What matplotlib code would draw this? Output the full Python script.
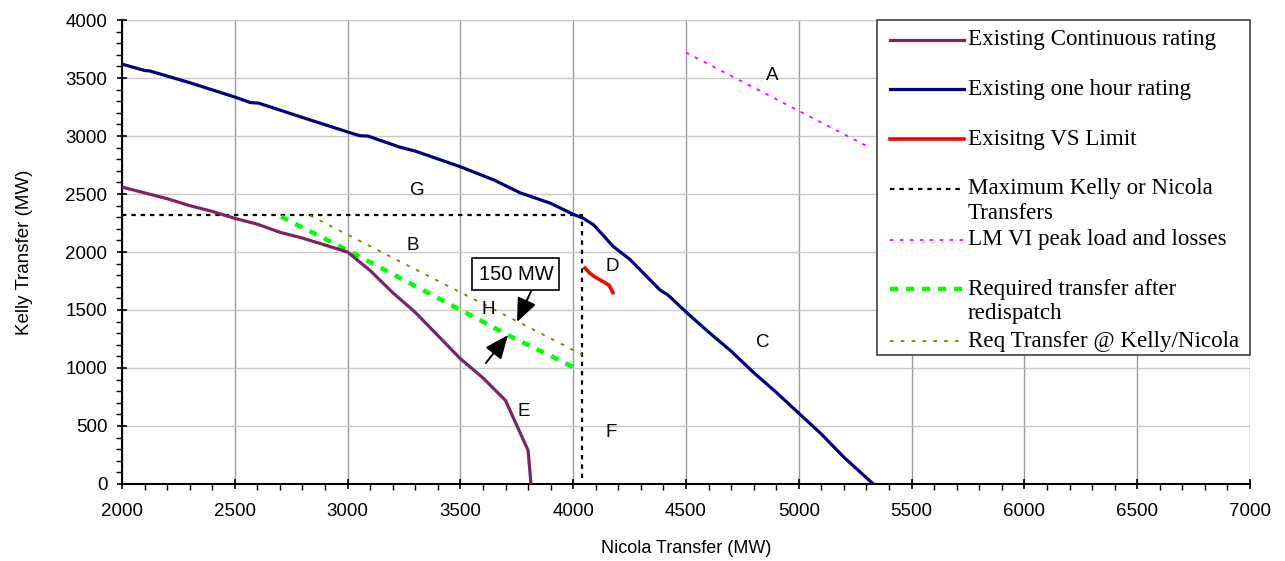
import matplotlib
matplotlib.use("Agg")
import matplotlib.pyplot as plt
from matplotlib.patches import Rectangle
from matplotlib.ticker import MultipleLocator

plt.rcParams['font.family'] = ['Liberation Sans', 'DejaVu Sans']

# Existing continuous rating
cont_x = [2000, 2100, 2200, 2300, 2400, 2500, 2600, 2700, 2800, 2900, 3000,
          3100, 3200, 3300, 3400, 3500, 3600, 3700, 3800, 3813]
cont_y = [2560, 2510, 2460, 2400, 2350, 2290, 2240, 2170, 2120, 2060, 2000,
          1840, 1650, 1480, 1280, 1080, 915, 720, 290, 0]

# Existing one hour rating
hour_x = [2000, 2100, 2125, 2300, 2500, 2570, 2605, 2800, 3000, 3055, 3090,
          3230, 3300, 3500, 3650, 3765, 3900, 4000, 4045, 4090, 4130, 4176,
          4252, 4385, 4420, 4500, 4600, 4700, 4800, 4900, 5000, 5100, 5200, 5330]
hour_y = [3620, 3565, 3560, 3460, 3336, 3288, 3284, 3160, 3035, 3002, 3000,
          2905, 2870, 2735, 2620, 2510, 2420, 2325, 2290, 2235, 2150, 2050,
          1935, 1672, 1630, 1483, 1310, 1145, 960, 790, 610, 430, 230, 0]

# Existing VS limit
vs_x = [4052, 4075, 4097, 4141, 4160, 4176]
vs_y = [1862, 1815, 1784, 1735, 1710, 1650]

# Maximum Kelly or Nicola transfers
max_x = [2000, 4040, 4040]
max_y = [2320, 2320, 0]

# LM VI peak load and losses
lm_x = [4500, 5320]
lm_y = [3720, 2895]

# Required transfer after redispatch
req_x = [2705, 2975, 3720, 4000]
req_y = [2305, 2040, 1275, 1008]

# Required transfer at Kelly/Nicola
kn_x = [2833, 3742, 4040]
kn_y = [2315, 1412, 1115]

region_labels = ['A', 'B', 'C', 'D', 'E', 'F', 'G', 'H']
region_x = [4881, 3290, 4841, 4172, 3782, 4168, 3308, 3622]
region_y = [3526, 2060, 1224, 1879, 621, 448, 2526, 1500]

fig = plt.figure(figsize=(12.85, 5.61), dpi=100)
ax = fig.add_axes([0.0949, 0.1373, 0.8779, 0.8270])

ax.plot(cont_x, cont_y, color='#7b2463', lw=2.3, solid_capstyle='butt', zorder=4)
ax.plot(hour_x, hour_y, color='#000080', lw=2.3, zorder=4)
ax.plot(vs_x, vs_y, color='#ff0000', lw=2.6, zorder=4)
ax.plot(max_x, max_y, color='black', lw=1.6, dashes=(2, 2.2), zorder=3)
ax.plot(lm_x, lm_y, color='#ff00ff', lw=1.3, dashes=(2, 3.5), zorder=3)
ax.plot(req_x, req_y, color='#00ff00', lw=3.2, dashes=(1.8, 1.8), zorder=3)
ax.plot(kn_x, kn_y, color='#808000', lw=1.3, dashes=(2, 4), zorder=3)

for lab, lx, ly in zip(region_labels, region_x, region_y):
    ax.text(lx, ly, lab, fontsize=13.5, ha='center', va='center', zorder=5)

# 150 MW gap annotation
head = '-|>,head_length=1.0,head_width=0.42'
ax.annotate('150 MW', xy=(3751, 1397), xytext=(3746, 1810), fontsize=14.5,
            ha='center', va='center', zorder=6,
            bbox=dict(boxstyle='square,pad=0.3', fc='white', ec='black', lw=1.2),
            arrowprops=dict(arrowstyle=head, color='black', lw=1.4,
                            shrinkA=0, shrinkB=0, relpos=(0.75, 0.0)))
ax.annotate('', xy=(3711, 1284), xytext=(3613, 1043), fontsize=14.5, zorder=6,
            arrowprops=dict(arrowstyle=head, color='black', lw=1.4,
                            shrinkA=0, shrinkB=0))

ax.set_xlim(2000, 7000)
ax.set_ylim(0, 4000)
ax.xaxis.set_major_locator(MultipleLocator(500))
ax.xaxis.set_minor_locator(MultipleLocator(100))
ax.yaxis.set_major_locator(MultipleLocator(500))
ax.yaxis.set_minor_locator(MultipleLocator(100))
ax.tick_params(which='major', direction='inout', length=7, width=1.2, labelsize=13.5)
ax.tick_params(axis='x', which='major', pad=10)
ax.tick_params(axis='y', which='major', pad=7)
ax.tick_params(which='minor', direction='out', length=4, width=1)

ax.grid(axis='x', which='major', color='#9a9a9a', lw=1)
ax.grid(axis='y', which='major', color='#c8c8c8', lw=1)
ax.set_axisbelow(True)
for side in ['top', 'right']:
    ax.spines[side].set_visible(False)
for side in ['left', 'bottom']:
    ax.spines[side].set_linewidth(1.5)

ax.set_xlabel('Nicola Transfer (MW)', fontsize=13)
ax.set_ylabel('Kelly Transfer (MW)', fontsize=13.5)
ax.xaxis.set_label_coords(0.5, -0.12)
ax.yaxis.set_label_coords(-0.079, 0.5)

# legend box drawn in axes coordinates
lx0, lx1, ly0 = 0.669, 1.0, 0.278
ax.add_patch(Rectangle((lx0, ly0), lx1 - lx0, 1.0 - ly0, transform=ax.transAxes,
                       fc='white', ec='#404040', lw=1.2, zorder=7, clip_on=False))
entries = [
    (0.957, dict(color='#7b2463', lw=2.3), ['Existing Continuous rating']),
    (0.851, dict(color='#000080', lw=2.3), ['Existing one hour rating']),
    (0.743, dict(color='#ff0000', lw=2.6), ['Exisitng VS Limit']),
    (0.636, dict(color='black', lw=1.6, dashes=(2, 2.2)), ['Maximum Kelly or Nicola', 'Transfers']),
    (0.526, dict(color='#ff00ff', lw=1.3, dashes=(2, 3.5)), ['LM VI peak load and losses']),
    (0.420, dict(color='#00ff00', lw=3.2, dashes=(1.8, 1.8)), ['Required transfer after', 'redispatch']),
    (0.308, dict(color='#808000', lw=1.3, dashes=(2, 4)), ['Req Transfer @ Kelly/Nicola']),
]
for ey, style, lines in entries:
    ax.plot([0.681, 0.746], [ey, ey], transform=ax.transAxes, clip_on=False, zorder=8, **style)
    for i, line in enumerate(lines):
        ax.text(0.750, ey - i * 0.053, line, transform=ax.transAxes, fontsize=16.6,
                family=['Liberation Serif', 'DejaVu Serif'], ha='left', va='center', zorder=8)

fig.savefig('out.png', dpi=100)
